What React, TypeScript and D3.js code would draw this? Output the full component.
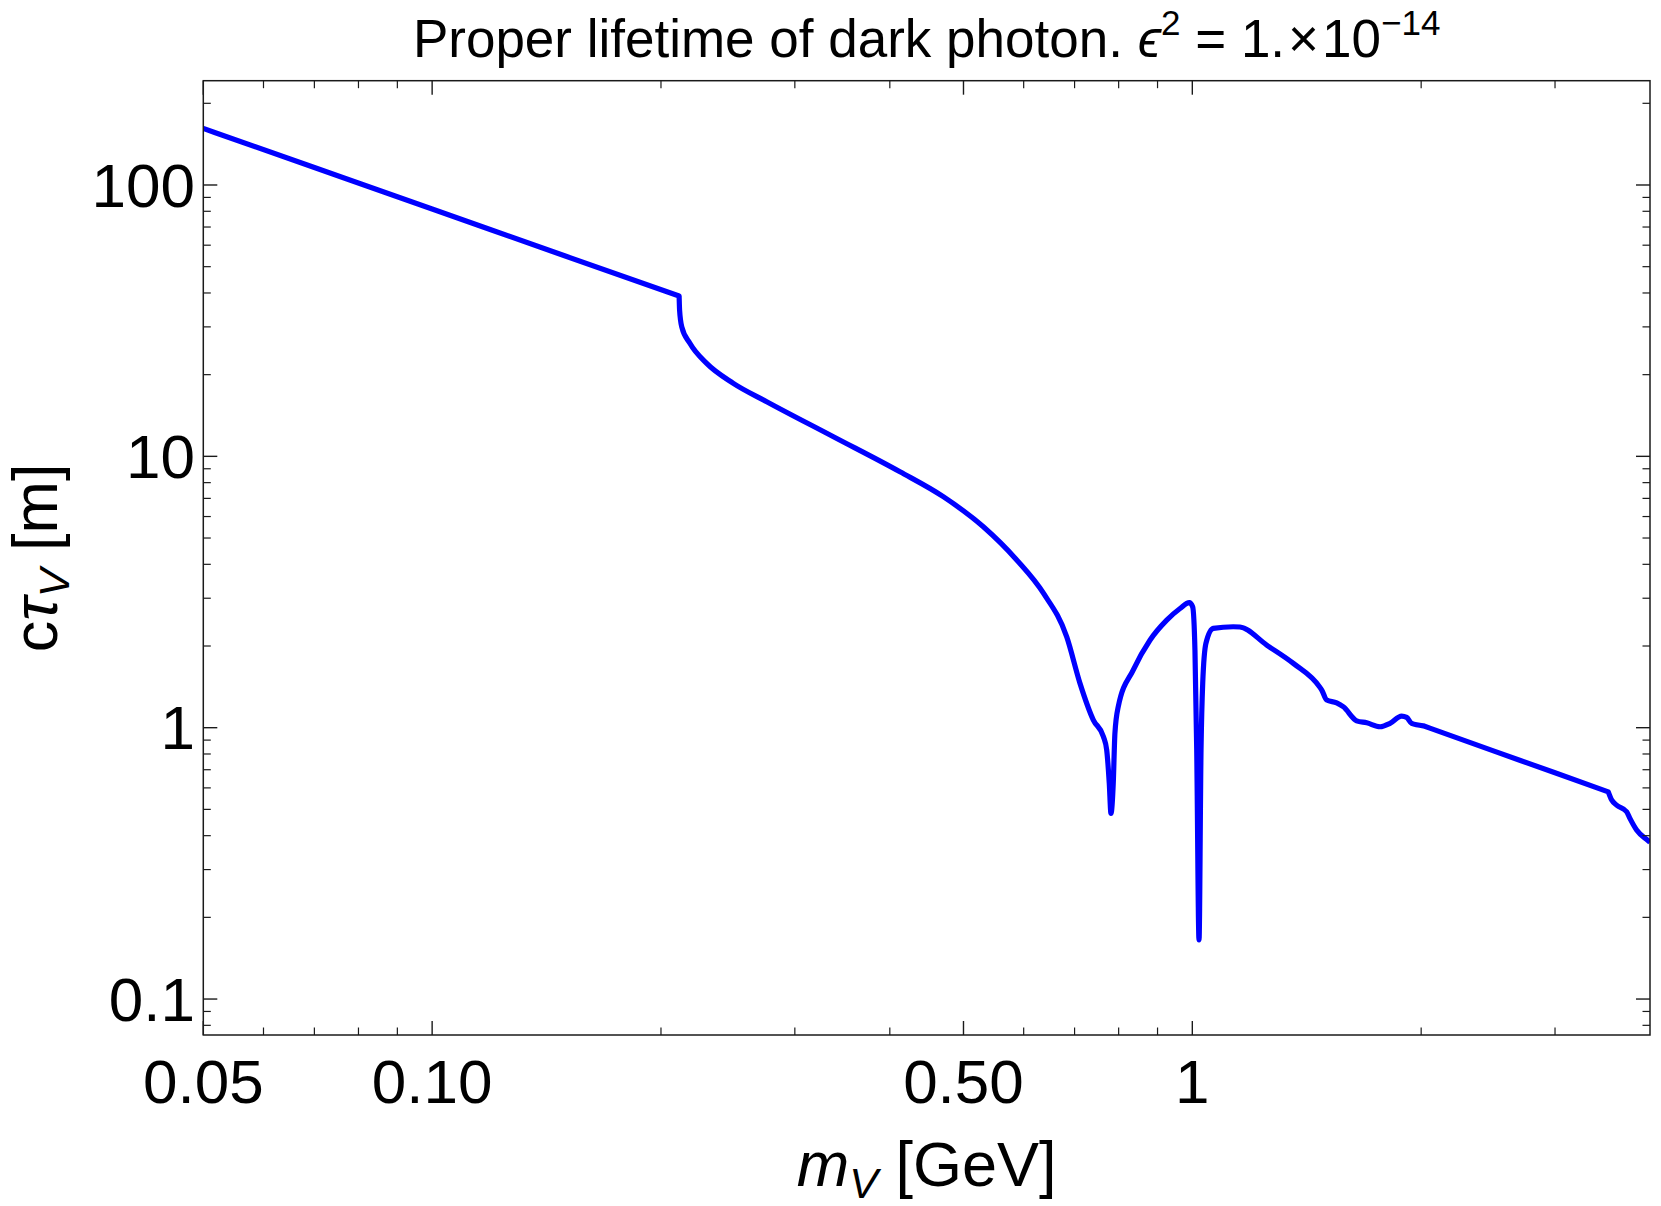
import React from 'react'
import * as d3 from 'd3'

// dark photon mass [GeV]
const massGeV = [
  0.05, 0.07, 0.1, 0.15, 0.2113, 0.2116, 0.213, 0.2183, 0.2297, 0.249,
  0.2755, 0.3372, 0.4125, 0.4703, 0.531, 0.5875, 0.637, 0.6836, 0.7116, 0.741,
  0.764, 0.7716, 0.7776, 0.7816, 0.787, 0.791, 0.799, 0.836, 0.8795, 0.9254,
  0.9635, 0.991, 1.001, 1.008, 1.0134, 1.0205, 1.0267, 1.032, 1.042, 1.0654,
  1.132, 1.155, 1.2527, 1.358, 1.472, 1.48, 1.5025, 1.5485, 1.58, 1.645,
  1.696, 1.766, 1.82, 1.885, 1.914, 1.943, 2.013, 2.5, 3.0, 3.525,
  3.562, 3.615, 3.727, 3.764, 3.841, 3.979, 4.0,
]

// proper decay length c*tau [m]
const ctauM = [
  161.6, 116.0, 81.6, 54.6, 39.0, 34.6, 30.0, 26.1, 22.0, 18.58,
  15.9, 11.81, 8.77, 7.1, 5.5, 4.15, 3.13, 2.16, 1.457, 1.067,
  0.926, 0.827, 0.623, 0.483, 0.623, 0.953, 1.194, 1.63, 2.1, 2.49,
  2.75, 2.89, 2.79, 1.93, 0.827, 0.165, 0.827, 1.461, 2.045, 2.323,
  2.355, 2.35, 2.016, 1.726, 1.408, 1.376, 1.264, 1.235, 1.194, 1.06,
  1.042, 1.008, 1.037, 1.103, 1.091, 1.037, 1.016, 0.818, 0.682, 0.58,
  0.541, 0.5185, 0.49, 0.463, 0.4195, 0.383, 0.378,
]

// thresholds where the curve has a sharp corner
const kinkMasses = [0.2113, 2.013, 3.525]

const xMajorTicks = [0.05, 0.1, 0.5, 1]
const xTickLabels = ['0.05', '0.10', '0.50', '1']
const xMinorTicks = [0.06, 0.07, 0.08, 0.09, 0.2, 0.3, 0.4, 0.6, 0.7, 0.8, 0.9, 2, 3]

const yMajorTicks = [0.1, 1, 10, 100]
const yTickLabels = ['0.1', '1', '10', '100']
const yMinorTicks = [
  0.08, 0.09, 0.2, 0.3, 0.4, 0.5, 0.6, 0.7, 0.8, 0.9,
  2, 3, 4, 5, 6, 7, 8, 9, 20, 30, 40, 50, 60, 70, 80, 90, 200,
]

const W = 1661
const H = 1206
const left = 203.3
const right = 1650
const top = 80.7
const bottom = 1035

const FONT = "Arial, 'Liberation Sans', Helvetica, sans-serif"

export default function App() {
  const x = d3.scaleLog().domain([0.05, 4]).range([left, right])
  const y = d3.scaleLog().domain([0.0737, 242.3]).range([bottom, top])

  const points: [number, number][] = massGeV.map((m, i) => [m, ctauM[i]])

  // split at the kinks so the smoothing does not round them off
  const pieces: [number, number][][] = [[]]
  points.forEach(p => {
    pieces[pieces.length - 1].push(p)
    if (kinkMasses.includes(p[0])) pieces.push([p])
  })

  const line = d3
    .line<[number, number]>()
    .x(d => x(d[0]))
    .y(d => y(d[1]))
    .curve(d3.curveMonotoneX)

  const pathD = pieces
    .filter(seg => seg.length > 1)
    .map((seg, i) => {
      const d = line(seg) ?? ''
      return i === 0 ? d : 'L' + d.slice(1)
    })
    .join('')

  const frame = '#1a1a1a'
  const majorLen = 14
  const minorLen = 7.5

  return (
    <svg
      width={W}
      height={H}
      style={{ position: 'absolute', left: 0, top: 0, display: 'block', background: '#fff' }}
      fontFamily={FONT}
    >
      <rect x={0} y={0} width={W} height={H} fill="#fff" />

      {/* title */}
      <text x={(left + right) / 2} y={57.3} fontSize={53} textAnchor="middle" fill="#000">
        Proper lifetime of dark photon.{' '}
        <tspan fontStyle="italic">ϵ</tspan>
        <tspan fontSize={35} dy={-22}>2</tspan>
        <tspan dy={22}> = 1.</tspan>
        <tspan dx={3}>×</tspan>
        <tspan dx={3}>10</tspan>
        <tspan fontSize={35} dy={-22}>−14</tspan>
      </text>

      <clipPath id="plotArea">
        <rect x={left} y={top} width={right - left} height={bottom - top} />
      </clipPath>

      {/* curve */}
      <path
        d={pathD}
        fill="none"
        stroke="#0000ff"
        strokeWidth={5.2}
        strokeLinejoin="round"
        clipPath="url(#plotArea)"
      />

      {/* frame */}
      <rect
        x={left}
        y={top}
        width={right - left}
        height={bottom - top}
        fill="none"
        stroke={frame}
        strokeWidth={1.5}
      />

      {/* x ticks (bottom and top) */}
      {xMajorTicks.map(t => (
        <g key={'xM' + t} stroke={frame} strokeWidth={1.4}>
          <line x1={x(t)} x2={x(t)} y1={bottom} y2={bottom - majorLen} />
          <line x1={x(t)} x2={x(t)} y1={top} y2={top + majorLen} />
        </g>
      ))}
      {xMinorTicks.map(t => (
        <g key={'xm' + t} stroke={frame} strokeWidth={1.2}>
          <line x1={x(t)} x2={x(t)} y1={bottom} y2={bottom - minorLen} />
          <line x1={x(t)} x2={x(t)} y1={top} y2={top + minorLen} />
        </g>
      ))}
      {xMajorTicks.map((t, i) => (
        <text key={'xl' + t} x={x(t)} y={bottom + 67.7} fontSize={62} textAnchor="middle" fill="#000">
          {xTickLabels[i]}
        </text>
      ))}

      {/* y ticks (left and right) */}
      {yMajorTicks.map(t => (
        <g key={'yM' + t} stroke={frame} strokeWidth={1.4}>
          <line x1={left} x2={left + majorLen} y1={y(t)} y2={y(t)} />
          <line x1={right} x2={right - majorLen} y1={y(t)} y2={y(t)} />
        </g>
      ))}
      {yMinorTicks.map(t => (
        <g key={'ym' + t} stroke={frame} strokeWidth={1.2}>
          <line x1={left} x2={left + minorLen} y1={y(t)} y2={y(t)} />
          <line x1={right} x2={right - minorLen} y1={y(t)} y2={y(t)} />
        </g>
      ))}
      {yMajorTicks.map((t, i) => (
        <text key={'yl' + t} x={195} y={y(t)} dy="0.35em" fontSize={62} textAnchor="end" fill="#000">
          {yTickLabels[i]}
        </text>
      ))}

      {/* axis labels */}
      <text x={(left + right) / 2} y={1186} fontSize={63} textAnchor="middle" fill="#000">
        <tspan fontStyle="italic">m</tspan>
        <tspan fontStyle="italic" fontSize={43} dy={12}>V</tspan>
        <tspan dy={-12}> [GeV]</tspan>
      </text>
      <text
        transform={`translate(57, ${(top + bottom) / 2}) rotate(-90)`}
        fontSize={63}
        textAnchor="middle"
        fill="#000"
      >
        c<tspan fontStyle="italic">τ</tspan>
        <tspan fontStyle="italic" fontSize={43} dy={12}>V</tspan>
        <tspan dy={-12}> [m]</tspan>
      </text>
    </svg>
  )
}
